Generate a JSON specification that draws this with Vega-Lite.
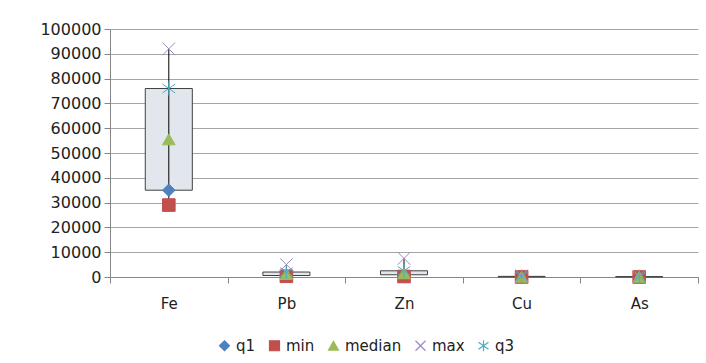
{
  "$schema": "https://vega.github.io/schema/vega-lite/v6.json",
  "width": 588,
  "height": 248,
  "autosize": {"type": "none"},
  "padding": {"left": 110, "top": 29, "right": 8, "bottom": 86},
  "background": "white",
  "config": {
    "view": {"stroke": null},
    "font": "DejaVu Sans",
    "legend": {"padding": 0},
    "axisY": {
      "title": null,
      "values": [0, 10000, 20000, 30000, 40000, 50000, 60000, 70000, 80000, 90000, 100000],
      "format": "d",
      "labelOverlap": false,
      "grid": true,
      "gridColor": "#a6a6a6",
      "gridWidth": 1,
      "tickSize": 6,
      "tickColor": "#868686",
      "domainColor": "#868686",
      "labelFont": "DejaVu Sans",
      "labelFontSize": 16,
      "labelColor": "#222222",
      "labelPadding": 3
    }
  },
  "data": {
    "values": [
      {"element": "Fe", "min": 29000, "q1": 35000, "median": 55500, "q3": 76000, "max": 92000},
      {"element": "Pb", "min": 300, "q1": 600, "median": 1200, "q3": 2000, "max": 5000},
      {"element": "Zn", "min": 200, "q1": 900, "median": 1500, "q3": 2500, "max": 7500},
      {"element": "Cu", "min": 20, "q1": 60, "median": 120, "q3": 250, "max": 500},
      {"element": "As", "min": 10, "q1": 30, "median": 70, "q3": 150, "max": 350}
    ]
  },
  "encoding": {
    "x": {
      "field": "element",
      "type": "nominal",
      "sort": null,
      "scale": {"paddingInner": 0, "paddingOuter": 0},
      "axis": {
        "title": null,
        "labelAngle": 0,
        "tickBand": "extent",
        "tickSize": 6,
        "tickColor": "#868686",
        "domainColor": "#868686",
        "labelFont": "DejaVu Sans",
        "labelFontSize": 15,
        "labelColor": "#222222",
        "labelPadding": 13,
        "grid": false
      }
    }
  },
  "layer": [
    {
      "mark": {"type": "bar", "width": {"band": 0.4}, "fill": "#e2e7ee", "stroke": "#404040", "strokeWidth": 1},
      "encoding": {
        "y": {
          "field": "q1",
          "type": "quantitative",
          "scale": {"domain": [0, 100000], "nice": false},
          "axis": {"values": [0, 10000, 20000, 30000, 40000, 50000, 60000, 70000, 80000, 90000, 100000], "labelOverlap": false}
        },
        "y2": {"field": "q3"}
      }
    },
    {
      "mark": {"type": "rule", "color": "#000000", "strokeWidth": 1},
      "encoding": {
        "y": {"field": "min", "type": "quantitative", "axis": {"values": [0, 10000, 20000, 30000, 40000, 50000, 60000, 70000, 80000, 90000, 100000], "labelOverlap": false}},
        "y2": {"field": "max"}
      }
    },
    {
      "transform": [{"fold": ["q1", "min", "median", "max", "q3"], "as": ["stat", "value"]}],
      "mark": {"type": "point", "filled": true, "opacity": 1, "size": 160, "strokeWidth": 1},
      "encoding": {
        "y": {"field": "value", "type": "quantitative", "axis": {"values": [0, 10000, 20000, 30000, 40000, 50000, 60000, 70000, 80000, 90000, 100000], "labelOverlap": false}},
        "fill": {
          "field": "stat",
          "type": "nominal",
          "scale": {"domain": ["q1", "min", "median", "max", "q3"], "range": ["#4f81bd", "#c0504d", "#9bbb59", "#9d8bc4", "#4bacc6"]},
          "legend": {"orient": "none", "legendX": 107, "legendY": 309, "direction": "horizontal", "title": null, "labelFontSize": 15, "labelFont": "DejaVu Sans", "labelColor": "#222222", "symbolSize": 100, "columnPadding": 11, "labelOffset": 4, "symbolStrokeWidth": 1.2}
        },
        "stroke": {
          "field": "stat",
          "type": "nominal",
          "scale": {"domain": ["q1", "min", "median", "max", "q3"], "range": ["#4f81bd", "#c0504d", "#9bbb59", "#9d8bc4", "#4bacc6"]},
          "legend": {"orient": "none", "legendX": 107, "legendY": 309, "direction": "horizontal", "title": null, "labelFontSize": 15, "labelFont": "DejaVu Sans", "labelColor": "#222222", "symbolSize": 100, "columnPadding": 11, "labelOffset": 4, "symbolStrokeWidth": 1.2}
        },
        "shape": {
          "field": "stat",
          "type": "nominal",
          "scale": {"domain": ["q1", "min", "median", "max", "q3"], "range": ["diamond", "square", "triangle-up", "M-1,-1L1,1M1,-1L-1,1", "M0,-1.1L0,1.1M-1,-0.7L1,0.7M-1,0.7L1,-0.7"]},
          "legend": {"orient": "none", "legendX": 107, "legendY": 309, "direction": "horizontal", "title": null, "labelFontSize": 15, "labelFont": "DejaVu Sans", "labelColor": "#222222", "symbolSize": 100, "columnPadding": 11, "labelOffset": 4, "symbolStrokeWidth": 1.2}
        }
      }
    }
  ]
}
